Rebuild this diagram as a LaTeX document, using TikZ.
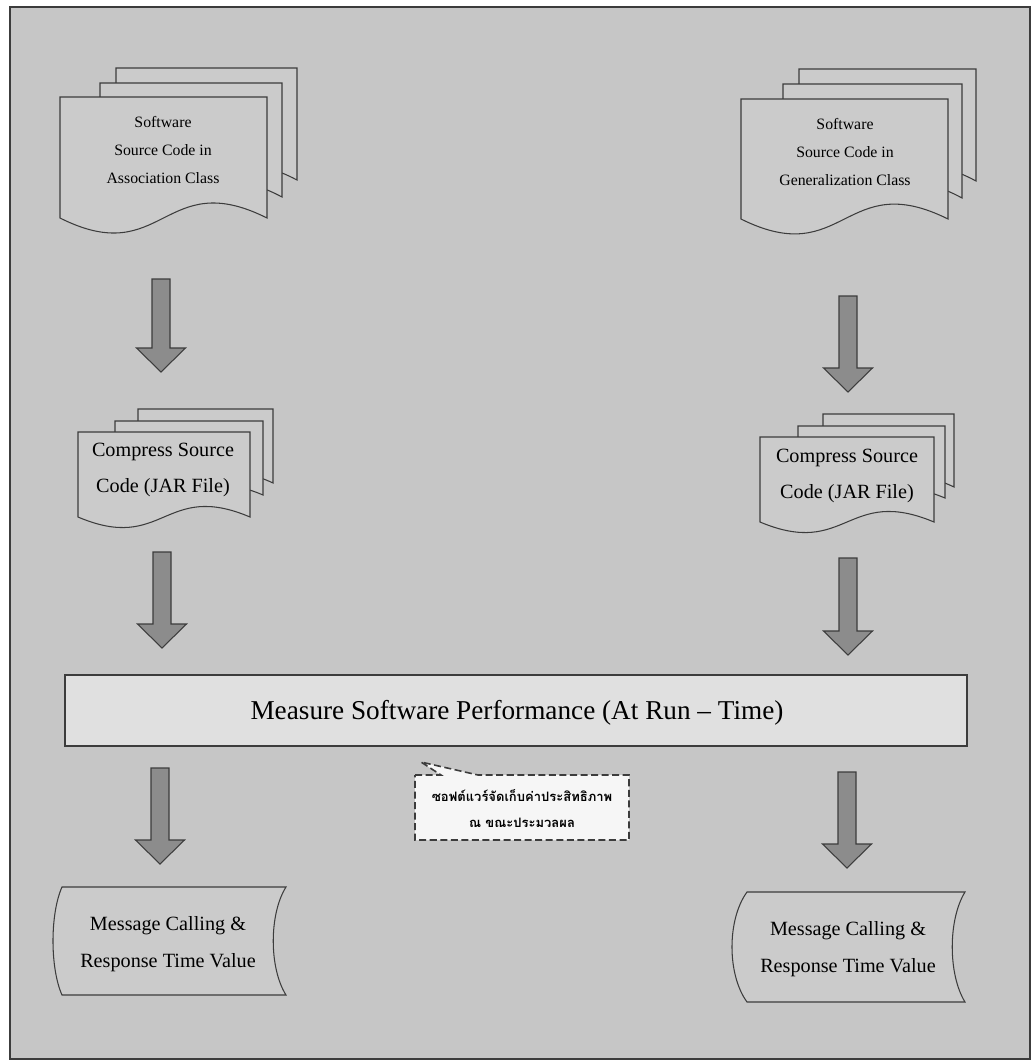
\documentclass[tikz,border=0pt]{standalone}
\usepackage{fontspec}
\setmainfont{Liberation Serif}
\newfontfamily\thaifont[Script=Thai]{Loma}

\definecolor{bggray}{RGB}{198,198,198}
\definecolor{docgray}{RGB}{203,203,203}
\definecolor{bargray}{RGB}{224,224,224}
\definecolor{arrgray}{RGB}{140,140,140}
\definecolor{notewhite}{RGB}{246,246,246}
\definecolor{inkgray}{RGB}{60,60,60}

% one sheet of a document symbol: left, top, right, bottom edge
\newcommand\docpage[4]{%
  \filldraw[page] (#1,#2) -- (#3,#2) -- (#3,#4)
    .. controls ({#3-0.5*(#3-#1)},{#4-0.43*(#4-#2)})
            and ({#1+0.5*(#3-#1)},{#4+0.43*(#4-#2)}) .. (#1,#4) -- cycle;}
% stored data symbol: left, top, right, bottom, left bulge, right dent
\newcommand\storeddata[6]{%
  \filldraw[page] (#1,#2) -- (#3,#2)
    .. controls ({#3-#6},{#2+0.25*(#4-#2)}) and ({#3-#6},{#4-0.25*(#4-#2)}) .. (#3,#4)
    -- (#1,#4)
    .. controls ({#1-#5},{#4-0.25*(#4-#2)}) and ({#1-#5},{#2+0.25*(#4-#2)}) .. (#1,#2)
    -- cycle;}
% thick grey arrow pointing down: x, top, tip
\newcommand\blockdown[3]{%
  \filldraw[block] (#1-9,#2) -- (#1+9,#2) -- (#1+9,#3-24) -- (#1+24.5,#3-24)
    -- (#1,#3) -- (#1-24.5,#3-24) -- (#1-9,#3-24) -- cycle;}

\begin{document}
\begin{tikzpicture}[x=0.02cm,y=-0.02cm,
    page/.style={fill=docgray,draw=inkgray,line width=0.6pt},
    block/.style={fill=arrgray,draw=inkgray,line width=0.6pt},
    bar/.style={fill=bargray,draw=inkgray,line width=0.9pt},
    note/.style={fill=notewhite,draw=inkgray,line width=0.9pt,
                 dash pattern=on 4pt off 2pt},
    doctext/.style={align=center,inner sep=0pt,font=\fontsize{9}{16.2}\selectfont},
    jartext/.style={align=center,inner sep=0pt,font=\fontsize{11.5}{21}\selectfont},
    bartext/.style={inner sep=0pt,font=\fontsize{15.5}{18}\selectfont},
    notetext/.style={align=center,inner sep=0pt,font=\thaifont\bfseries\fontsize{7.4}{14.8}\selectfont}]

  \useasboundingbox (0,0) rectangle (1035,1063);
  \fill[white] (0,0) rectangle (1035,1063);
  \filldraw[fill=bggray,draw=inkgray,line width=0.8pt] (10,7) rectangle (1030,1059);

  % source code in association class
  \docpage{116}{68}{297}{180}
  \docpage{100}{83}{282}{197}
  \docpage{60}{97}{267}{218}
  \node[doctext] (asrc) at (163,150) {Software\\Source Code in\\Association Class};

  % source code in generalization class
  \docpage{799}{69}{976}{181}
  \docpage{783}{84}{962}{198}
  \docpage{741}{99}{948}{219}
  \node[doctext] (gsrc) at (845,152) {Software\\Source Code in\\Generalization Class};

  % jar files
  \docpage{138}{409}{273}{483}
  \docpage{115}{421}{263}{495}
  \docpage{78}{432}{250}{517}
  \node[jartext] (ajar) at (163,470) {Compress Source\\Code (JAR File)};

  \docpage{823}{414}{954}{487}
  \docpage{798}{426}{945}{498}
  \docpage{760}{437}{934}{522}
  \node[jartext] (gjar) at (847,476) {Compress Source\\Code (JAR File)};

  \blockdown{161}{279}{372}
  \blockdown{162}{552}{648}
  \blockdown{848}{296}{392}
  \blockdown{848}{558}{655}

  \filldraw[bar] (65,675) rectangle (967,746);
  \node[bartext] (measure) at (517,713) {Measure Software Performance (At Run -- Time)};

  \blockdown{160}{768}{864}
  \blockdown{847}{772}{868}

  \draw[note] (415,775) -- (441,775) -- (421,762) -- (478,775) -- (629,775)
    -- (629,840) -- (415,840) -- cycle;
  \node[notetext] (note) at (522,809) {ซอฟต์แวร์จัดเก็บค่าประสิทธิภาพ\\ณ ขณะประมวลผล};

  % results
  \storeddata{62}{887}{286}{995}{12}{17}
  \node[jartext] (aout) at (168,944) {Message Calling \&\\Response Time Value};

  \storeddata{747}{892}{965}{1002}{20}{17}
  \node[jartext] (gout) at (848,949) {Message Calling \&\\Response Time Value};
\end{tikzpicture}
\end{document}
